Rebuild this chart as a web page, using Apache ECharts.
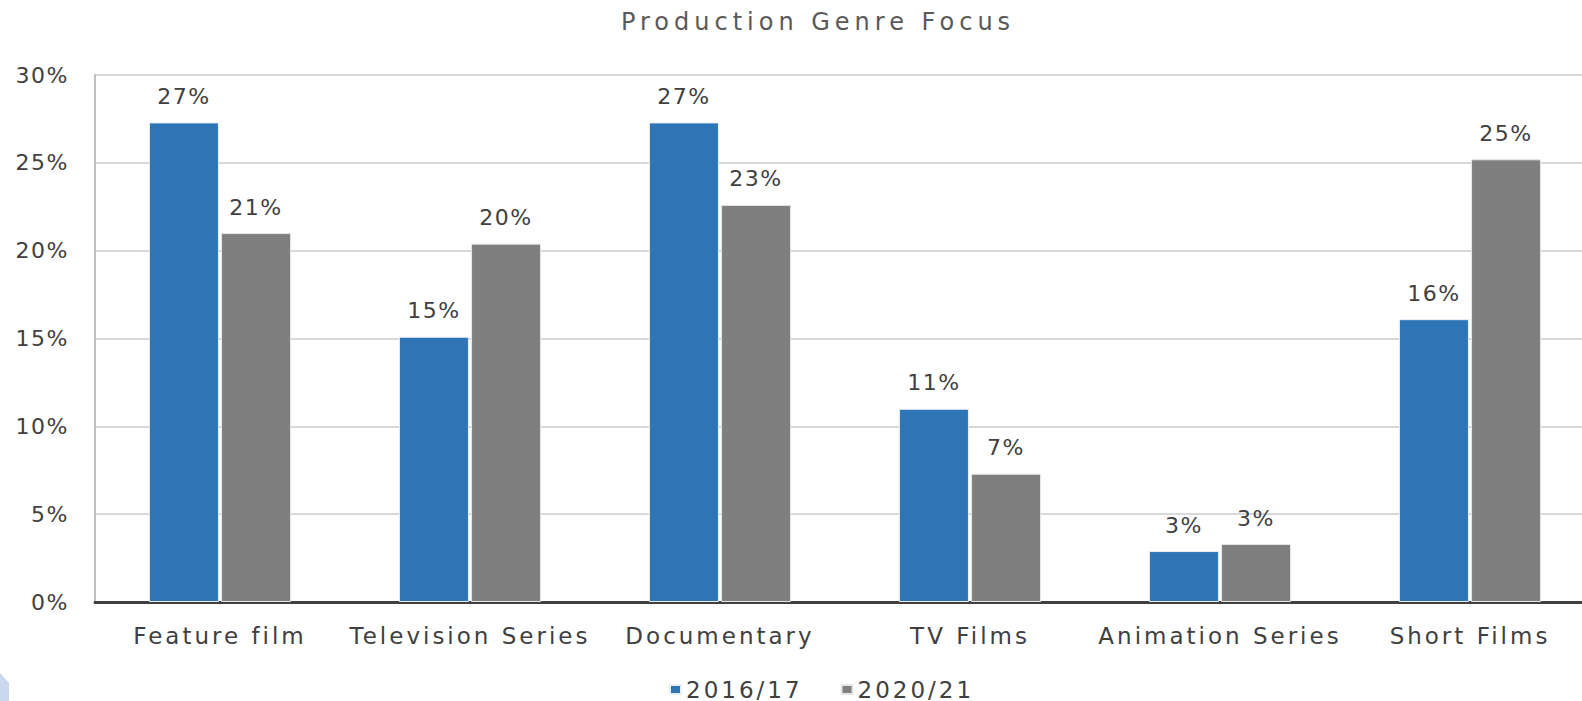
<!DOCTYPE html>
<html>
<head>
	<meta charset="utf-8">
	<title>Production Genre Focus</title>
	<script src="https://cdn.jsdelivr.net/npm/echarts@6/dist/echarts.min.js"></script>
	<style>
		html, body { margin: 0; padding: 0; background: #fff; }
		#main { width: 1582px; height: 701px; }
	</style>
</head>
<body>
<div id="main"></div>
<script>
	var categories = ['Feature film', 'Television Series', 'Documentary', 'TV Films', 'Animation Series', 'Short Films'];
	var seriesNames = ['2016/17', '2020/21'];
	var values1617 = [27.3, 15.1, 27.3, 11.0, 2.9, 16.1];
	var values2021 = [21.0, 20.4, 22.6, 7.3, 3.3, 25.2];
	var yTicks = { min: 0, max: 30, interval: 5 };

	var chart = echarts.init(document.getElementById('main'), null, { renderer: 'svg' });

	var labelOpt = {
		show: true,
		position: 'top',
		distance: 15,
		color: '#404040',
		fontSize: 22,
		fontFamily: 'DejaVu Sans',
		formatter: function (p) { return Math.round(p.value) + '%'; }
	};

	var option = {
		animation: false,
		backgroundColor: '#fff',
		title: {
			text: 'Production Genre Focus',
			left: 813,
			textAlign: 'center',
			top: 5,
			textStyle: { color: '#595959', fontSize: 24, fontWeight: 'normal', fontFamily: 'DejaVu Sans' }
		},
		legend: {
			data: seriesNames,
			left: 664,
			top: 673,
			icon: 'rect',
			itemWidth: 11,
			itemHeight: 9,
			itemGap: 59,
			textStyle: { color: '#404040', fontSize: 23, fontFamily: 'DejaVu Sans' }
		},
		grid: { left: 95, top: 75, bottom: 99, width: 1500, outerBoundsMode: 'none' },
		xAxis: {
			type: 'category',
			data: categories,
			axisTick: { show: false },
			axisLine: { lineStyle: { color: '#404040', width: 3 } },
			axisLabel: { color: '#404040', fontSize: 23, fontFamily: 'DejaVu Sans', margin: 22, interval: 0 }
		},
		yAxis: {
			type: 'value',
			min: yTicks.min,
			max: yTicks.max,
			interval: yTicks.interval,
			axisLine: { show: true, lineStyle: { color: '#BFBFBF', width: 2 } },
			axisTick: { show: false },
			splitLine: { lineStyle: { color: '#D9D9D9', width: 2 } },
			axisLabel: { color: '#404040', fontSize: 22, fontFamily: 'DejaVu Sans', margin: 26, formatter: '{value}%' }
		},
		graphic: [{
			type: 'polygon',
			shape: { points: [[0, 673], [9, 683], [9, 701], [0, 701]] },
			style: { fill: '#C9D7EF' },
			silent: true
		}],
		series: [
			{
				name: seriesNames[0],
				type: 'bar',
				data: values1617,
				barWidth: 70,
				barGap: '3%',
				itemStyle: { color: '#2E75B6', borderColor: '#E8EEF6', borderWidth: 1 },
				label: labelOpt
			},
			{
				name: seriesNames[1],
				type: 'bar',
				data: values2021,
				barWidth: 70,
				itemStyle: { color: '#7F7F7F', borderColor: '#E6E6E6', borderWidth: 1 },
				label: labelOpt
			}
		]
	};

	chart.setOption(option);

	// the reference text is widely spaced, svg text takes letter-spacing
	function spaceText() {
		var texts = document.querySelectorAll('#main svg text');
		for (var i = 0; i < texts.length; i++) {
			var fs = parseFloat(getComputedStyle(texts[i]).fontSize);
			var ls = fs >= 24 ? '5px' : (fs >= 23 ? '3px' : '1.5px');
			texts[i].setAttribute('letter-spacing', ls);
		}
	}
	spaceText();
	chart.on('finished', spaceText);
</script>
</body>
</html>
